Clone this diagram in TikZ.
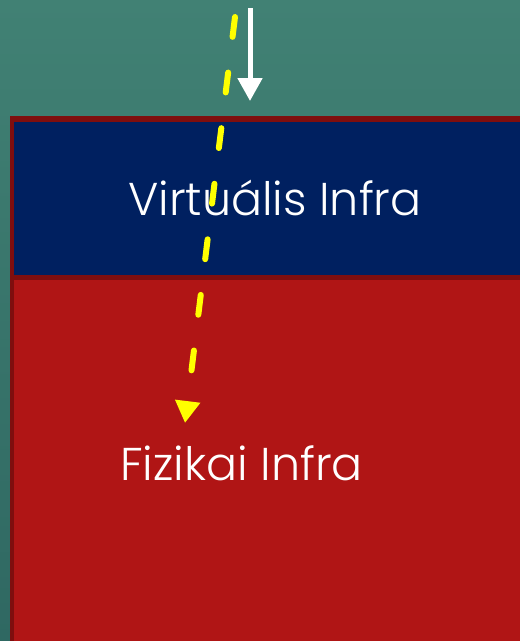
\documentclass[tikz,border=0pt]{standalone}
\usepackage{fontspec}
\setmainfont{Poppins Light}
\usetikzlibrary{arrows.meta}
\definecolor{teal1}{HTML}{418174}
\definecolor{teal2}{HTML}{2F6862}
\definecolor{infraborder}{HTML}{7F0E0E}
\definecolor{infrared}{HTML}{B01515}
\definecolor{infrablue}{HTML}{002060}
\definecolor{flowyellow}{HTML}{FFFF00}

\begin{document}
\begin{tikzpicture}[x=1pt, y=-1pt,
		label text/.style={text=white, font=\fontsize{46}{50}\selectfont, inner sep=0pt, anchor=base west},
		flow/.style={line width=5pt, white, -{Triangle[width=24pt,length=23pt]}},
		yellow flow/.style={line width=6pt, flowyellow, line cap=round, dash pattern=on 20pt off 36pt, -{Triangle[width=24pt,length=22pt,line cap=butt]}}]
		\useasboundingbox (0,0) rectangle (520,641);
		\shade[top color=teal1, bottom color=teal2] (0,0) rectangle (520,641);
		% fizikai layer
		\fill[infraborder] (10,116) rectangle (520,641);
		\fill[infrared] (14,280) rectangle (520,641);
		% virtualis layer
		\fill[infrablue] (14,122) rectangle (520,275);
		\node[label text] (virt) at (128,215) {Virtuális Infra};
		\node[label text] (fiz) at (120,480) {Fizikai Infra};
		% flows
		\coordinate (w1) at (250,8);
		\coordinate (w2) at (250,101);
		\coordinate (y1) at (235,17);
		\coordinate (y2) at (185,423);
		\draw[flow] (w1) -- (w2);
		\draw[yellow flow] (y1) -- (y2);
	\end{tikzpicture}
\end{document}
